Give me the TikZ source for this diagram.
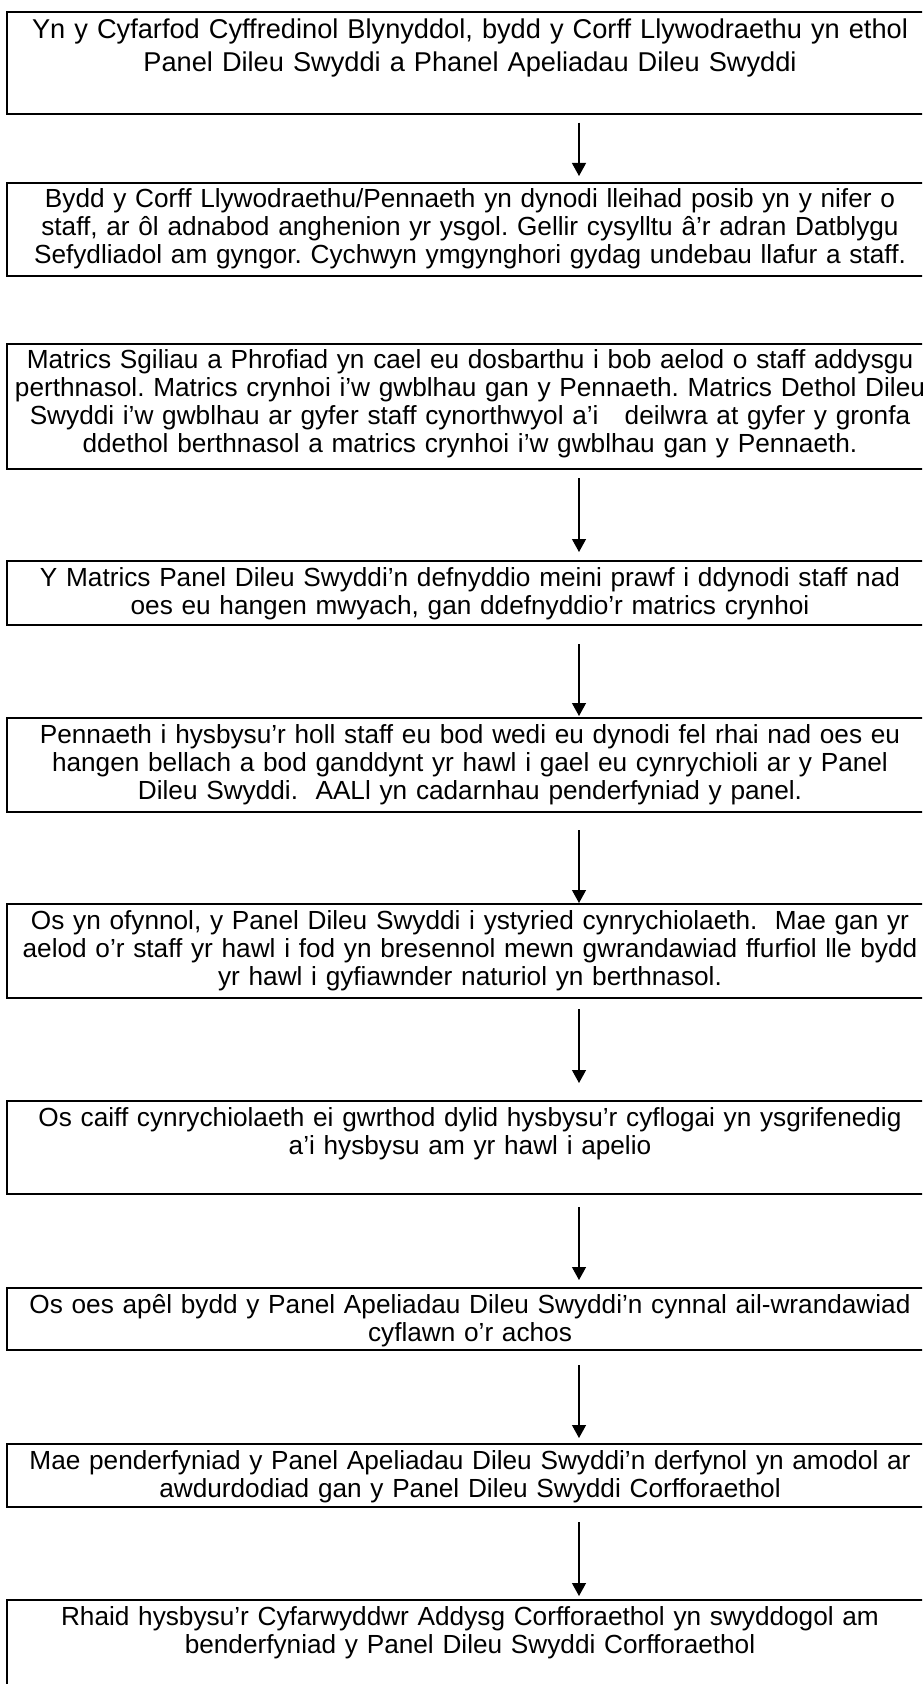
\documentclass[tikz,border=0pt]{standalone}
\usepackage{fontspec}
\setmainfont{Liberation Sans}
\usepackage{xcolor}
\usepackage{tikz}
\usetikzlibrary{positioning, arrows.meta}
\definecolor{fInk}{HTML}{000000}
\frenchspacing
\tikzset{
  stepbox/.style={draw=fInk, line width=1pt, anchor=north, text width=460pt,
    inner xsep=1.5pt, inner ysep=0pt, text height=12.5pt, align=center,
    font=\fontsize{13.1}{14}\selectfont, text=fInk},
  flowarrow/.style={-{Triangle[width=7pt,length=6.5pt]}, line width=0.6pt, draw=fInk},
}

\begin{document}
\begin{tikzpicture}[x=0.5pt, y=-0.5pt]
        \clip (0,0) rectangle (922,1684);
        \coordinate (ax) at (579,0);
        \node[stepbox, text height=13.5pt, text depth=37.5pt,
          font=\fontsize{13.6}{16.5}\selectfont] (s1) at (470,10.7)
          {Yn y Cyfarfod Cyffredinol Blynyddol, bydd y Corff Llywodraethu yn ethol\\
           Panel Dileu Swyddi a Phanel Apeliadau Dileu Swyddi};
        \node[stepbox, text depth=34pt] (s2) at (470,182)
          {Bydd y Corff Llywodraethu/Pennaeth yn dynodi lleihad posib yn y nifer o\\
           staff, ar ôl adnabod anghenion yr ysgol. Gellir cysylltu â’r adran Datblygu\\
           Sefydliadol am gyngor. Cychwyn ymgynghori gydag undebau llafur a staff.};
        \node[stepbox, text depth=50pt] (s3) at (470,343)
          {Matrics Sgiliau a Phrofiad yn cael eu dosbarthu i bob aelod o staff addysgu\\
           perthnasol. Matrics crynhoi i’w gwblhau gan y Pennaeth. Matrics Dethol Dileu\\
           Swyddi i’w gwblhau ar gyfer staff cynorthwyol a’i\ \ \ deilwra at gyfer y gronfa\\
           ddethol berthnasol a matrics crynhoi i’w gwblhau gan y Pennaeth.};
        \node[stepbox, text depth=19.5pt] (s4) at (470,560)
          {Y Matrics Panel Dileu Swyddi’n defnyddio meini prawf i ddynodi staff nad\\
           oes eu hangen mwyach, gan ddefnyddio’r matrics crynhoi};
        \node[stepbox, text depth=34.5pt] (s5) at (470,717)
          {Pennaeth i hysbysu’r holl staff eu bod wedi eu dynodi fel rhai nad oes eu\\
           hangen bellach a bod ganddynt yr hawl i gael eu cynrychioli ar y Panel\\
           Dileu Swyddi.\ \ AALl yn cadarnhau penderfyniad y panel.};
        \node[stepbox, text depth=34.5pt] (s6) at (470,903)
          {Os yn ofynnol, y Panel Dileu Swyddi i ystyried cynrychiolaeth.\ \ Mae gan yr\\
           aelod o’r staff yr hawl i fod yn bresennol mewn gwrandawiad ffurfiol lle bydd\\
           yr hawl i gyfiawnder naturiol yn berthnasol.};
        \node[stepbox, text depth=34pt] (s7) at (470,1100)
          {Os caiff cynrychiolaeth ei gwrthod dylid hysbysu’r cyflogai yn ysgrifenedig\\
           a’i hysbysu am yr hawl i apelio};
        \node[stepbox, text depth=18.5pt] (s8) at (470,1287)
          {Os oes apêl bydd y Panel Apeliadau Dileu Swyddi’n cynnal ail-wrandawiad\\
           cyflawn o’r achos};
        \node[stepbox, text depth=19pt] (s9) at (470,1443)
          {Mae penderfyniad y Panel Apeliadau Dileu Swyddi’n derfynol yn amodol ar\\
           awdurdodiad gan y Panel Dileu Swyddi Corfforaethol};
        \node[stepbox, text depth=38pt] (s10) at (470,1599)
          {Rhaid hysbysu’r Cyfarwyddwr Addysg Corfforaethol yn swyddogol am\\
           benderfyniad y Panel Dileu Swyddi Corfforaethol};
        % connectors, all on one vertical line
        \draw[flowarrow, shorten <=4pt, shorten >=3pt] (s1.south -| ax) -- (s2.north -| ax);
        \draw[flowarrow, shorten <=4pt, shorten >=4pt] (s3.south -| ax) -- (s4.north -| ax);
        \draw[flowarrow, shorten <=9pt, shorten >=0.5pt] (s4.south -| ax) -- (s5.north -| ax);
        \draw[flowarrow, shorten <=8.5pt] (s5.south -| ax) -- (s6.north -| ax);
        \draw[flowarrow, shorten <=5pt, shorten >=8.5pt] (s6.south -| ax) -- (s7.north -| ax);
        \draw[flowarrow, shorten <=6pt, shorten >=3.5pt] (s7.south -| ax) -- (s8.north -| ax);
        \draw[flowarrow, shorten <=7pt, shorten >=2.5pt] (s8.south -| ax) -- (s9.north -| ax);
        \draw[flowarrow, shorten <=7pt, shorten >=1.5pt] (s9.south -| ax) -- (s10.north -| ax);
      \end{tikzpicture}
\end{document}
